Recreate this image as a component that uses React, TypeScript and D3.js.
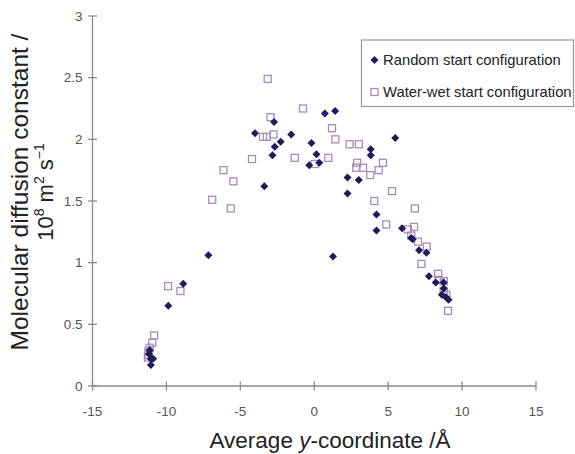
import * as d3 from "d3";
import { useRef, useEffect } from "react";

// data: [average y-coordinate (Å), diffusion constant (1e-8 m2/s)]
const randomStart: [number, number][] = [
  [-11.05, 0.17], [-11.06, 0.22], [-10.9, 0.22], [-11.13, 0.29], [-11.18, 0.26],
  [-9.87, 0.65], [-8.86, 0.83], [-7.16, 1.06],
  [-4.01, 2.05], [-3.38, 1.62], [-2.72, 2.14], [-2.27, 1.98], [-2.67, 1.94],
  [-2.83, 1.87], [-1.56, 2.04], [-0.19, 1.97], [0.15, 1.88], [-0.34, 1.79],
  [0.34, 1.81], [0.72, 2.21], [1.41, 2.23], [1.27, 1.05], [2.25, 1.69],
  [3.01, 1.67], [2.25, 1.56], [3.82, 1.92], [3.82, 1.87], [5.48, 2.01],
  [4.21, 1.39], [4.21, 1.26], [5.94, 1.28], [6.56, 1.2], [6.66, 1.19],
  [7.09, 1.1], [7.59, 1.08], [7.76, 0.89], [8.22, 0.84], [8.75, 0.84],
  [8.63, 0.74], [8.91, 0.72], [9.08, 0.7], [8.76, 0.79],
];

const waterWetStart: [number, number][] = [
  [-11.25, 0.23], [-11.22, 0.28], [-11.13, 0.31], [-10.96, 0.35], [-10.83, 0.41],
  [-11.2, 0.25], [-9.89, 0.81], [-9.05, 0.77], [-6.9, 1.51], [-5.65, 1.44],
  [-6.14, 1.75], [-5.47, 1.66], [-4.21, 1.84], [-3.46, 2.02], [-3.21, 2.02],
  [-2.76, 2.04], [-2.96, 2.18], [-3.15, 2.49], [-1.32, 1.85], [-0.76, 2.25],
  [0.03, 1.8], [0.95, 1.85], [1.2, 2.09], [1.43, 2.0], [2.39, 1.96],
  [3.02, 1.96], [2.9, 1.81], [2.84, 1.77], [3.3, 1.77], [3.79, 1.71],
  [4.36, 1.75], [4.65, 1.81], [5.26, 1.58], [4.06, 1.5], [6.81, 1.44],
  [4.87, 1.31], [6.33, 1.27], [6.75, 1.29], [6.56, 1.22], [7.02, 1.17],
  [7.61, 1.13], [7.25, 0.99], [8.38, 0.91], [8.41, 0.86], [8.76, 0.85],
  [8.75, 0.77], [8.94, 0.74], [9.05, 0.61],
];

const xTicks = [-15, -10, -5, 0, 5, 10, 15];
const yTicks = [0, 0.5, 1, 1.5, 2, 2.5, 3];
const yTickLabels = ["0", "0.5", "1", "1.5", "2", "2.5", "3"];
const legendLabels = ["Random start configuration", "Water-wet start configuration"];

const W = 575;
const H = 454;
const FONT = "'Liberation Sans', Arial, Helvetica, sans-serif";
const NAVY = "#1e1a5c";
const LILAC = "#a88bb8";
const AXIS = "#8a8a8a";

const diamond = (cx: number, cy: number, r: number) =>
  `M${cx},${cy - r}L${cx + r},${cy}L${cx},${cy + r}L${cx - r},${cy}Z`;

const App = () => {
  const ref = useRef<SVGSVGElement>(null);

  useEffect(() => {
    const svg = d3.select(ref.current);
    svg.selectAll("*").remove();

    const x = d3.scaleLinear().domain([-15, 15]).range([92.5, 536]);
    const y = d3.scaleLinear().domain([0, 3]).range([386, 16]);

    // axes
    const axes = svg.append("g").attr("stroke", AXIS).attr("stroke-width", 1.3);
    axes.append("line")
      .attr("x1", x(-15)).attr("x2", x(-15))
      .attr("y1", y(3)).attr("y2", y(0));
    axes.append("line")
      .attr("x1", x(-15)).attr("x2", x(15))
      .attr("y1", y(0)).attr("y2", y(0));

    axes.selectAll(".yt")
      .data(yTicks)
      .join("line")
      .attr("x1", x(-15) - 4.5).attr("x2", x(-15) + 4.5)
      .attr("y1", d => y(d)).attr("y2", d => y(d));

    axes.selectAll(".xt")
      .data(xTicks)
      .join("line")
      .attr("x1", d => x(d)).attr("x2", d => x(d))
      .attr("y1", y(0) - 4.5).attr("y2", y(0) + 4.5);

    // tick labels
    svg.append("g")
      .selectAll("text")
      .data(yTicks)
      .join("text")
      .attr("x", x(-15) - 10)
      .attr("y", d => y(d))
      .attr("dy", "0.35em")
      .attr("text-anchor", "end")
      .attr("font-family", FONT)
      .attr("font-size", 13.5)
      .attr("fill", "#555")
      .text((d, i) => yTickLabels[i]);

    svg.append("g")
      .selectAll("text")
      .data(xTicks)
      .join("text")
      .attr("x", d => x(d))
      .attr("y", 416)
      .attr("text-anchor", "middle")
      .attr("font-family", FONT)
      .attr("font-size", 13.5)
      .attr("fill", "#555")
      .text(d => String(d));

    // points
    svg.append("g")
      .selectAll("rect")
      .data(waterWetStart)
      .join("rect")
      .attr("x", d => x(d[0]) - 3.5)
      .attr("y", d => y(d[1]) - 3.5)
      .attr("width", 7)
      .attr("height", 7)
      .attr("fill", "none")
      .attr("stroke", LILAC)
      .attr("stroke-width", 1.3);

    svg.append("g")
      .selectAll("path")
      .data(randomStart)
      .join("path")
      .attr("d", d => diamond(x(d[0]), y(d[1]), 4))
      .attr("fill", NAVY);

    // legend
    const lg = svg.append("g");
    lg.append("rect")
      .attr("x", 361.5).attr("y", 40)
      .attr("width", 212).attr("height", 66.5)
      .attr("fill", "white")
      .attr("stroke", "#999")
      .attr("stroke-width", 1.2);
    lg.append("path").attr("d", diamond(374.5, 60, 4)).attr("fill", NAVY);
    lg.append("rect")
      .attr("x", 371).attr("y", 88.5)
      .attr("width", 7).attr("height", 7)
      .attr("fill", "none")
      .attr("stroke", LILAC)
      .attr("stroke-width", 1.3);
    lg.selectAll("text")
      .data(legendLabels)
      .join("text")
      .attr("x", 383)
      .attr("y", (d, i) => 60 + i * 32)
      .attr("dy", "0.36em")
      .attr("font-family", FONT)
      .attr("font-size", 14.8)
      .attr("fill", "#222")
      .text(d => d);

    // axis titles
    const xt = svg.append("text")
      .attr("x", 330)
      .attr("y", 448)
      .attr("text-anchor", "middle")
      .attr("font-family", FONT)
      .attr("font-size", 22.5)
      .attr("fill", "#222");
    xt.append("tspan").text("Average ");
    xt.append("tspan").attr("font-style", "italic").text("y");
    xt.append("tspan").text("-coordinate /\u00c5");

    const yt = svg.append("g")
      .attr("transform", "translate(28,192) rotate(-90)")
      .attr("font-family", FONT)
      .attr("fill", "#222")
      .attr("text-anchor", "middle");
    yt.append("text")
      .attr("font-size", 24.5)
      .text("Molecular diffusion constant /");
    const l2 = yt.append("text").attr("y", 25).attr("font-size", 22);
    l2.append("tspan").text("10");
    l2.append("tspan").attr("font-size", 14).attr("dy", -9).text("8");
    l2.append("tspan").attr("dy", 9).text(" m");
    l2.append("tspan").attr("font-size", 14).attr("dy", -9).text("2");
    l2.append("tspan").attr("dy", 9).text(" s");
    l2.append("tspan").attr("font-size", 14).attr("dy", -9).text("\u22121");
  }, []);

  return (
    <svg
      ref={ref}
      width={W}
      height={H}
      style={{ position: "absolute", left: 0, top: 0, background: "white" }}
    />
  );
};

export default App;
